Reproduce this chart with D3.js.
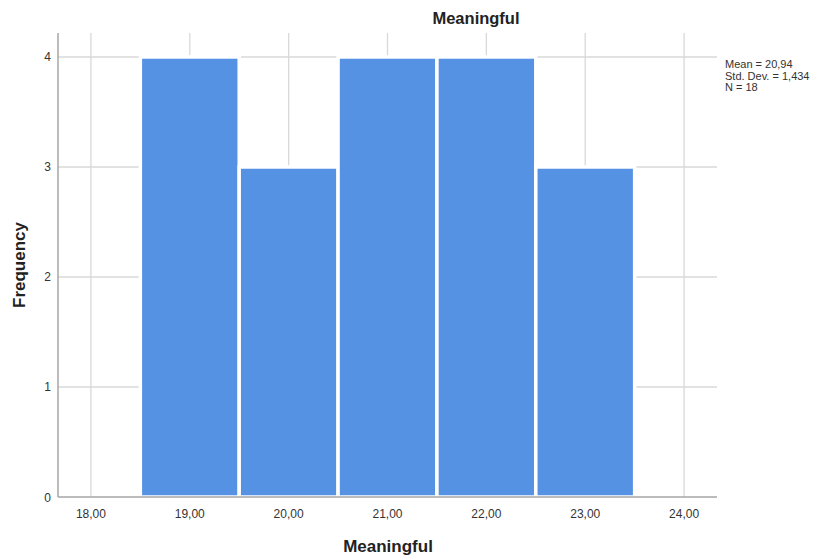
<!DOCTYPE html>
<html><head><meta charset="utf-8">
<script src="https://cdn.jsdelivr.net/npm/d3@7"></script>
<style>body{margin:0;background:#fff;} text{font-family:"Liberation Sans",Arial,sans-serif;}</style>
</head><body>
<svg id="c" width="821" height="557"></svg>
<script>
const binCenters = [19, 20, 21, 22, 23];
const frequencies = [4, 3, 4, 4, 3];
const xTicks = [18, 19, 20, 21, 22, 23, 24];
const yTicks = [0, 1, 2, 3, 4];
const statsLines = ["Mean = 20,94", "Std. Dev. = 1,434", "N = 18"];
const binWidth = 1;

(function () {
const svg = d3.select("#c");
const pL = 58, pR = 717, pT = 33, pB = 497;
const x = d3.scaleLinear().domain([17.667, 24.333]).range([pL, pR]);
const y = d3.scaleLinear().domain([0, 4.218]).range([pB, pT]);
const fmt = d => d.toFixed(2).replace(".", ",");

// grid
svg.append("g").selectAll("line").data(xTicks).join("line")
  .attr("x1", d => x(d)).attr("x2", d => x(d)).attr("y1", pT).attr("y2", pB)
  .attr("stroke", "#d9d9d9").attr("stroke-width", 1.3);
svg.append("g").selectAll("line").data(yTicks.filter(d => d > 0)).join("line")
  .attr("x1", pL).attr("x2", pR).attr("y1", d => y(d)).attr("y2", d => y(d))
  .attr("stroke", "#d9d9d9").attr("stroke-width", 1.3);

// bars
svg.append("g").selectAll("rect").data(binCenters).join("rect")
  .attr("x", d => x(d - binWidth / 2))
  .attr("width", x(binWidth) - x(0))
  .attr("y", (d, i) => y(frequencies[i]))
  .attr("height", (d, i) => y(0) - y(frequencies[i]))
  .attr("fill", "#5592e3").attr("stroke", "#fff").attr("stroke-width", 3.5);

// axes lines
svg.append("line").attr("x1", pL).attr("x2", pL).attr("y1", pT).attr("y2", pB)
  .attr("stroke", "#a6a6a6").attr("stroke-width", 1.5);
svg.append("line").attr("x1", pL).attr("x2", pR).attr("y1", pB).attr("y2", pB)
  .attr("stroke", "#a6a6a6").attr("stroke-width", 1.5);

// x tick labels
svg.append("g").selectAll("text").data(xTicks).join("text")
  .attr("x", d => x(d)).attr("y", 518).attr("text-anchor", "middle")
  .attr("font-size", 12).attr("fill", "#333").text(fmt);
// y tick labels
svg.append("g").selectAll("text").data(yTicks).join("text")
  .attr("x", 51).attr("y", d => y(d) + 4.5).attr("text-anchor", "end")
  .attr("font-size", 12).attr("fill", "#333").text(d => d);

// titles
svg.append("text").attr("x", 476).attr("y", 24).attr("text-anchor", "middle")
  .attr("font-size", 16.5).attr("font-weight", "bold").attr("fill", "#222").text("Meaningful");
svg.append("text").attr("x", 388).attr("y", 552).attr("text-anchor", "middle")
  .attr("font-size", 17).attr("font-weight", "bold").attr("fill", "#222").text("Meaningful");
svg.append("text").attr("transform", "translate(25,265) rotate(-90)").attr("text-anchor", "middle")
  .attr("font-size", 17).attr("font-weight", "bold").attr("fill", "#222").text("Frequency");

// stats
svg.append("g").selectAll("text").data(statsLines).join("text")
  .attr("x", 725).attr("y", (d, i) => 68 + i * 11.5)
  .attr("font-size", 11).attr("fill", "#333").text(d => d);
})();
</script>
</body></html>
